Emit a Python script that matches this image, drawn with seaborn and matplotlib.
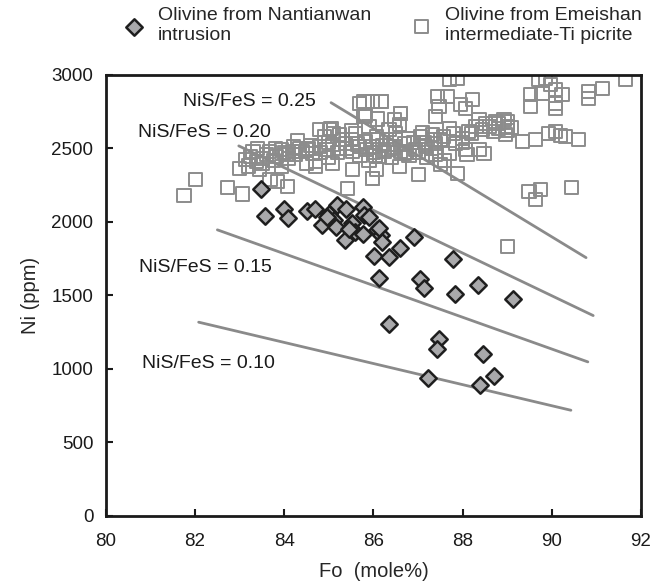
import pandas as pd
import seaborn as sns
import matplotlib
matplotlib.use('Agg')
import matplotlib.pyplot as plt

# Olivine from Nantianwan intrusion (Fo mole%, Ni ppm)
nan_fo = [83.47, 83.57, 83.99, 84.08, 84.50, 84.68, 84.85, 85.01, 85.18, 85.11,
          85.17, 85.38, 85.37, 85.51, 85.59, 85.76, 85.76, 85.79, 85.89, 86.09,
          86.17, 86.20, 86.02, 86.34, 86.60, 86.90, 86.13, 87.05, 87.14, 86.34,
          87.79, 87.82, 88.34, 89.12, 87.46, 87.43, 88.46, 87.22, 88.38, 88.70,
          84.95, 85.45, 86.13]
nan_ni = [2222, 2043, 2088, 2025, 2077, 2088, 1980, 2052, 2116, 2014,
          1968, 2086, 1878, 1991, 1934, 1918, 2104, 2048, 2036, 1946,
          1912, 1866, 1769, 1764, 1825, 1900, 1617, 1612, 1549, 1304,
          1748, 1508, 1571, 1474, 1206, 1136, 1100, 937, 891, 950,
          2030, 1950, 1957]

# Olivine from Emeishan intermediate-Ti picrite
eme_fo = [81.75, 82.01, 82.72, 83.07, 82.99, 83.13, 83.24, 83.37, 83.52, 83.67,
          83.82, 83.93, 84.04, 84.19, 84.34, 84.49, 84.64, 84.79, 84.94, 85.09,
          85.23, 85.38, 85.53, 85.68, 85.83, 85.98, 86.09, 84.49, 85.09, 85.53,
          84.71, 83.93, 83.45, 83.68, 83.85, 84.08, 85.42, 85.98, 85.01, 85.23,
          84.80, 85.68, 85.79, 87.70, 87.88, 87.66, 87.44, 87.47, 87.96, 88.22,
          88.07, 87.40, 87.70, 87.58, 87.36, 87.84, 88.14, 88.37, 88.44, 88.52,
          88.74, 88.93, 89.00, 88.96, 88.70, 88.81, 89.34, 89.64, 89.93, 90.08,
          90.19, 90.31, 90.60, 88.10, 88.37, 88.07, 89.49, 89.64, 89.75, 90.44,
          89.00, 89.71, 89.86, 89.97, 90.08, 90.23, 89.52, 89.52, 89.78, 90.08,
          90.08, 90.83, 90.83, 91.13, 91.65, 86.17, 86.61, 86.58, 86.35, 86.06,
          86.50, 86.80, 87.06, 87.32, 87.17, 86.95, 86.69, 86.35, 86.13, 85.98,
          86.58, 87.02, 87.51, 87.88, 87.70, 86.06, 87.40, 87.99, 88.48, 85.79,
          85.98, 86.17, 85.83, 86.61, 85.05, 86.47, 85.50, 85.60, 85.70, 85.90,
          86.00, 86.20, 86.30, 86.40, 86.50, 86.60, 86.70, 86.80, 86.90, 87.00,
          87.10, 87.20, 87.30, 87.40, 87.50, 87.60, 87.80, 88.00, 88.20, 88.30,
          88.60, 88.80, 89.00, 89.10, 89.00, 83.30, 83.40, 83.60, 83.80, 84.00,
          84.20, 84.40, 84.60, 84.80, 85.00, 85.20, 85.40, 84.90, 85.10, 85.30,
          85.50, 84.30, 84.10, 83.50, 83.20, 84.70, 85.00, 85.90, 86.10, 86.25,
          86.45, 86.75, 87.15, 85.65, 85.85, 86.05, 84.55, 84.25, 83.75]
eme_ni = [2177, 2286, 2236, 2190, 2365, 2422, 2444, 2410, 2433, 2478,
          2444, 2490, 2456, 2478, 2501, 2490, 2467, 2512, 2490, 2524,
          2501, 2535, 2478, 2512, 2546, 2512, 2558, 2399, 2399, 2354,
          2376, 2376, 2354, 2286, 2274, 2240, 2229, 2297, 2626, 2592,
          2626, 2807, 2716, 2966, 2977, 2852, 2852, 2784, 2796, 2835,
          2773, 2716, 2637, 2580, 2558, 2535, 2614, 2694, 2626, 2671,
          2682, 2694, 2648, 2592, 2614, 2637, 2546, 2558, 2603, 2614,
          2585, 2580, 2558, 2456, 2490, 2490, 2206, 2150, 2218, 2234,
          1832, 2966, 2977, 2932, 2898, 2864, 2864, 2784, 2875, 2807,
          2773, 2886, 2841, 2909, 2966, 2818, 2739, 2660, 2626, 2580,
          2558, 2569, 2580, 2592, 2512, 2490, 2467, 2490, 2444, 2297,
          2376, 2320, 2388, 2331, 2467, 2354, 2535, 2569, 2467, 2818,
          2818, 2818, 2721, 2739, 2637, 2694, 2560, 2600, 2450, 2420,
          2470, 2520, 2560, 2440, 2600, 2480, 2530, 2450, 2540, 2470,
          2610, 2440, 2500, 2460, 2560, 2420, 2600, 2540, 2600, 2650,
          2650, 2670, 2620, 2640, 2680, 2480, 2500, 2460, 2500, 2470,
          2510, 2480, 2520, 2470, 2540, 2470, 2500, 2580, 2600, 2560,
          2620, 2550, 2430, 2400, 2380, 2410, 2440, 2650, 2700, 2480,
          2510, 2470, 2540, 2530, 2490, 2450, 2500, 2460, 2420]

# NiS/FeS reference lines: start/end points
ratio_labels = ['NiS/FeS = 0.25', 'NiS/FeS = 0.20', 'NiS/FeS = 0.15', 'NiS/FeS = 0.10']
line_fo = [(85.05, 90.77), (82.98, 90.93), (82.50, 90.81), (82.08, 90.43)]
line_ni = [(2811, 1757), (2517, 1363), (1946, 1048), (1318, 719)]
label_fo = [81.72, 80.71, 80.75, 80.80]
label_ni = [2816, 2607, 1692, 1039]

nan = pd.DataFrame({'Fo': nan_fo, 'Ni': nan_ni})
eme = pd.DataFrame({'Fo': eme_fo, 'Ni': eme_ni})

sns.set_theme(style='ticks')
plt.rcParams['font.family'] = ['Liberation Sans', 'DejaVu Sans']

fig = plt.figure(figsize=(6.58, 5.85), dpi=100)
ax = fig.add_axes([0.161, 0.118, 0.813, 0.754])

# reference lines
for (x0, x1), (y0, y1) in zip(line_fo, line_ni):
    ax.plot([x0, x1], [y0, y1], color='#8a8a8a', lw=2, zorder=1)
for lab, lx, ly in zip(ratio_labels, label_fo, label_ni):
    ax.text(lx, ly, lab, fontsize=14, va='center', ha='left', color='#1a1a1a')

sns.scatterplot(data=eme, x='Fo', y='Ni', marker='s', s=90, facecolor='none',
                edgecolor='#8c8c8c', linewidth=1.4, ax=ax, zorder=2,
                label='Olivine from Emeishan\nintermediate-Ti picrite')
sns.scatterplot(data=nan, x='Fo', y='Ni', marker='D', s=70, color='#a9a9ab',
                edgecolor='#1e1e1e', linewidth=1.8, ax=ax, zorder=3,
                label='Olivine from Nantianwan\nintrusion')

ax.set_xlim(80, 92)
ax.set_ylim(0, 3000)
ax.set_xticks(range(80, 93, 2))
ax.set_yticks(range(0, 3001, 500))
ax.tick_params(direction='in', length=5, width=1.5, labelsize=13.5, colors='#1a1a1a')
ax.tick_params(axis='x', pad=12)
ax.tick_params(axis='y', pad=9)
for sp in ax.spines.values():
    sp.set_linewidth(2)
    sp.set_color('#1a1a1a')
ax.set_xlabel('Fo  (mole%)', fontsize=14.5, labelpad=9)
ax.set_ylabel('Ni (ppm)', fontsize=14.5, labelpad=8)

handles, labels = ax.get_legend_handles_labels()
ax.legend_.remove()
fig.legend(handles[::-1], labels[::-1], loc='upper center', bbox_to_anchor=(0.575, 1.018),
           ncol=2, frameon=False, fontsize=14, handletextpad=0.2, columnspacing=1.6,
           markerscale=1.0)

plt.savefig('out.png')
plt.close()
